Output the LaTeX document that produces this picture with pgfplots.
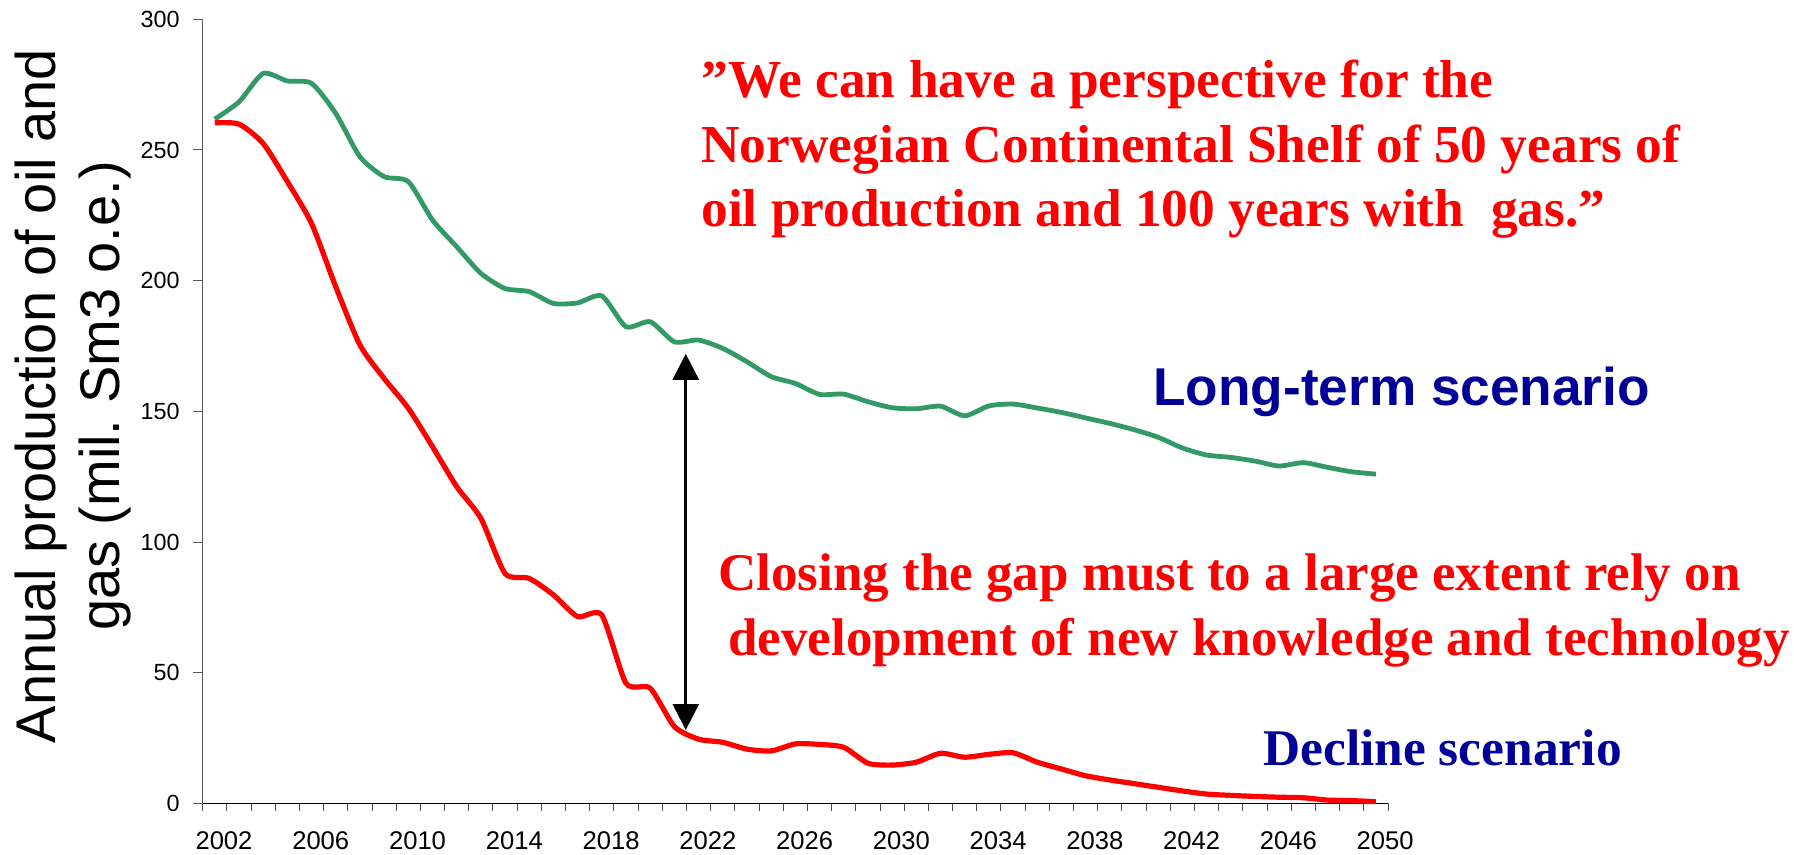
\documentclass[border=0pt]{standalone}
\usepackage{pgfplots}
\pgfplotsset{compat=1.18}
\usepackage{fontspec}
\setmainfont{Liberation Sans}
\newfontfamily\tnr{Liberation Serif}
\usetikzlibrary{arrows.meta}
\definecolor{sgreen}{RGB}{51,153,102}
\definecolor{dblue}{RGB}{0,0,153}
\frenchspacing
\begin{document}
\begin{tikzpicture}
\path[use as bounding box] (0,0) rectangle (897pt,427.5pt);
\begin{axis}[
  at={(101.35pt,25.75pt)}, anchor=south west,
  scale only axis, width=592.65pt, height=392.1pt,
  xmin=2001.5, xmax=2050.5, ymin=0, ymax=300,
  axis lines*=left,
  x axis line style={black, line width=0.6pt},
  y axis line style={black!65, line width=0.6pt},
  tick align=outside,
  xtick={2002,2006,...,2050},
  xticklabels={2002,2006,2010,2014,2018,2022,2026,2030,2034,2038,2042,2046,2050},
  minor xtick={2001.5,2002.5,...,2050.5},
  major x tick style={draw=none},
  minor x tick style={black!70, line width=0.5pt},
  minor tick length=4pt,
  major tick length=5pt,
  ytick={0,50,...,300},
  y tick style={black!65, line width=0.5pt},
  /pgf/number format/assume math mode=true,
  xticklabel style={font=\fontsize{12.8}{15}\selectfont, xshift=4.6pt, yshift=-5.6pt},
  yticklabel style={font=\fontsize{11.7}{14}\selectfont, xshift=-3pt},
  ylabel={Annual production of oil and\\gas (mil.\ Sm3 o.e.)},
  ylabel style={at={(axis description cs:-0.1094,0.5196)}, anchor=center, align=center, font=\fontsize{28}{31.5}\selectfont},
  clip=false,
]
\addplot[sgreen, line width=2.4pt, smooth, tension=0.4] coordinates {
(2002,261.8)(2003,268.4)(2004,279.3)(2005,276.4)(2006,275.5)(2007,264.0)(2008,247.4)(2009,239.8)(2010,237.9)
(2011,223.2)(2012,213.0)(2013,202.8)(2014,197.0)(2015,195.8)(2016,191.3)(2017,191.5)(2018,194.2)(2019,182.4)
(2020,184.3)(2021,176.6)(2022,177.3)(2023,174.1)(2024,169.0)(2025,163.3)(2026,160.7)(2027,156.5)(2028,156.6)
(2029,153.7)(2030,151.4)(2031,151.0)(2032,152.0)(2033,148.3)(2034,152.1)(2035,152.8)(2036,151.3)(2037,149.6)
(2038,147.5)(2039,145.4)(2040,143.0)(2041,140.1)(2042,136.0)(2043,133.3)(2044,132.4)(2045,131.0)(2046,129.1)
(2047,130.4)(2048,128.6)(2049,126.9)(2050,126.0)
};
\addplot[red, line width=2.6pt, smooth, tension=0.4] coordinates {
(2002,260.4)(2003,259.9)(2004,252.5)(2005,237.9)(2006,221.9)(2007,197.7)(2008,175.4)(2009,162.6)(2010,151.2)
(2011,136.5)(2012,121.2)(2013,109.1)(2014,88.0)(2015,86.1)(2016,79.8)(2017,71.5)(2018,72.1)(2019,46.0)
(2020,44.1)(2021,29.4)(2022,24.6)(2023,23.4)(2024,20.8)(2025,20.1)(2026,22.8)(2027,22.6)(2028,21.5)
(2029,15.4)(2030,14.7)(2031,15.8)(2032,19.2)(2033,17.7)(2034,18.8)(2035,19.4)(2036,15.8)(2037,13.2)
(2038,10.6)(2039,9.0)(2040,7.6)(2041,6.2)(2042,4.8)(2043,3.6)(2044,3.1)(2045,2.7)(2046,2.4)
(2047,2.2)(2048,1.3)(2049,1.1)(2050,0.7)
};
\draw[{Triangle[length=13pt,width=13pt]}-{Triangle[length=13pt,width=13pt]}, line width=1.4pt]
  (axis cs:2021.47,172) -- (axis cs:2021.47,28.1);
\end{axis}
\begin{scope}[every node/.style={inner sep=0pt, anchor=base west}]
\node[red, font=\tnr\bfseries\fontsize{26.7}{32}\selectfont] at (350.5pt,378.5pt) {”We can have a perspective for the};
\node[red, font=\tnr\bfseries\fontsize{26.7}{32}\selectfont] at (350.5pt,346.25pt) {Norwegian Continental Shelf of 50 years of};
\node[red, font=\tnr\bfseries\fontsize{26.7}{32}\selectfont] at (350.5pt,314pt) {oil production and 100 years with\ \ gas.”};
\node[red, font=\tnr\bfseries\fontsize{26.5}{32}\selectfont] at (359pt,132pt) {Closing the gap must to a large extent rely on};
\node[red, font=\tnr\bfseries\fontsize{26.5}{32}\selectfont] at (364pt,99.5pt) {development of new knowledge and technology};
\node[dblue, font=\bfseries\fontsize{26.6}{32}\selectfont] at (576.5pt,224.5pt) {Long-term scenario};
\node[dblue, font=\tnr\bfseries\fontsize{25.7}{32}\selectfont] at (631.5pt,44.65pt) {Decline scenario};
\end{scope}
\end{tikzpicture}
\end{document}
